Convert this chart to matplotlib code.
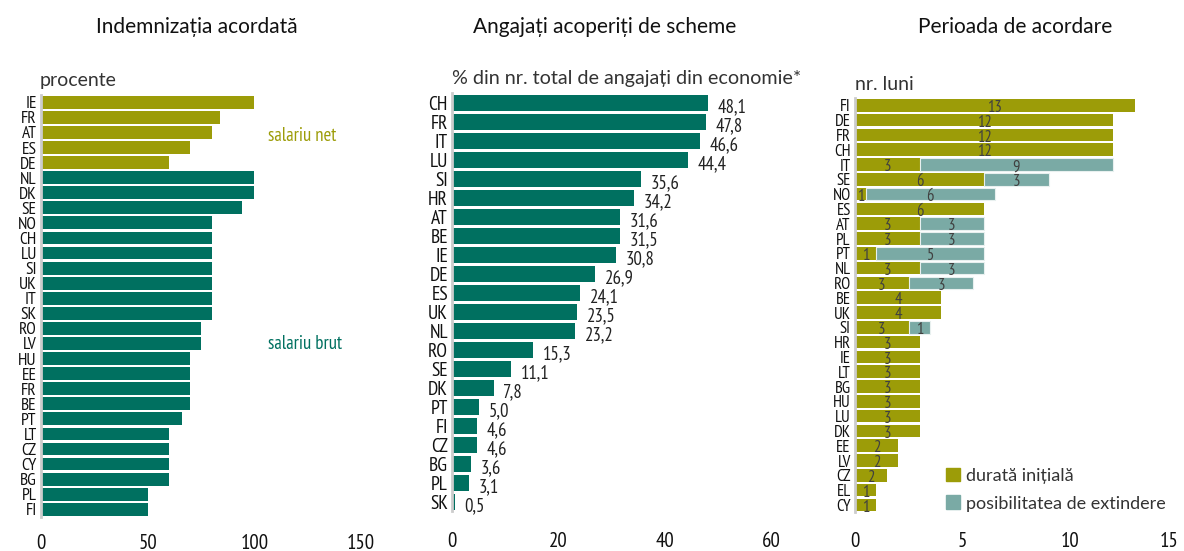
import matplotlib
matplotlib.use("Agg")
import matplotlib.pyplot as plt
from matplotlib import font_manager
from matplotlib.patches import Patch

# fonts: narrow one for the country codes / numbers, Lato for the titles
names = {f.name for f in font_manager.fontManager.ttflist}
narrow = "DejaVu Sans"
for cand in ["Liberation Sans Narrow", "PT Sans Narrow", "Roboto Condensed", "Archivo Narrow",
             "Fira Sans Condensed", "Open Sans Condensed", "IBM Plex Sans Condensed",
             "Asap Condensed", "Encode Sans Condensed", "Barlow Semi Condensed"]:
    if cand in names:
        narrow = cand
        break
NARROW = [narrow, "DejaVu Sans"]
TITLE = ["Lato", "Open Sans", "DejaVu Sans"]

OLIVE = "#9c9c08"
TEAL = "#007060"
LTEAL = "#7aaaa5"
GRID = "#cccccc"

# panel 1 - Indemnizatia acordata
ind_countries = ["IE", "FR", "AT", "ES", "DE", "NL", "DK", "SE", "NO", "CH", "LU", "SI", "UK",
                 "IT", "SK", "RO", "LV", "HU", "EE", "FR", "BE", "PT", "LT", "CZ", "CY", "BG",
                 "PL", "FI"]
ind_values = [100, 84, 80, 70, 60, 100, 100, 94, 80, 80, 80, 80, 80,
              80, 80, 75, 75, 70, 70, 70, 70, 66, 60, 60, 60, 60,
              50, 50]
ind_net = 5  # first five are net wage, the rest gross

# panel 2 - Angajati acoperiti de scheme
cov_countries = ["CH", "FR", "IT", "LU", "SI", "HR", "AT", "BE", "IE", "DE", "ES", "UK",
                 "NL", "RO", "SE", "DK", "PT", "FI", "CZ", "BG", "PL", "SK"]
cov_values = [48.1, 47.8, 46.6, 44.4, 35.6, 34.2, 31.6, 31.5, 30.8, 26.9, 24.1, 23.5,
              23.2, 15.3, 11.1, 7.8, 5.0, 4.6, 4.6, 3.6, 3.1, 0.5]

# panel 3 - Perioada de acordare
per_countries = ["FI", "DE", "FR", "CH", "IT", "SE", "NO", "ES", "AT", "PL", "PT", "NL",
                 "RO", "BE", "UK", "SI", "HR", "IE", "LT", "BG", "HU", "LU", "DK", "EE",
                 "LV", "CZ", "EL", "CY"]
per_initial = [13, 12, 12, 12, 3, 6, 0.5, 6, 3, 3, 1, 3,
               2.5, 4, 4, 2.5, 3, 3, 3, 3, 3, 3, 3, 2,
               2, 1.5, 1, 1]
per_extension = [0, 0, 0, 0, 9, 3, 6, 0, 3, 3, 5, 3,
                 3, 0, 0, 1, 0, 0, 0, 0, 0, 0, 0, 0,
                 0, 0, 0, 0]

fig = plt.figure(figsize=(11.84, 5.51), dpi=100)


def style(ax, n, xlim, xticks, pad):
    ax.set_ylim(n - 0.5, -0.5)
    ax.set_xlim(*xlim)
    ax.set_xticks(xticks)
    ax.set_yticks(range(n))
    for s in ["top", "right", "bottom"]:
        ax.spines[s].set_visible(False)
    ax.spines["left"].set_color(GRID)
    ax.spines["left"].set_linewidth(2)
    ax.tick_params(axis="x", length=0, pad=pad, labelsize=15, labelcolor="#111111")
    ax.tick_params(axis="y", length=0, pad=3, labelcolor="#111111")
    for lab in ax.get_xticklabels():
        lab.set_family(NARROW)


# ---- left panel
ax1 = fig.add_axes([0.0346, 0.0620, 0.2703, 0.7660])
n1 = len(ind_countries)
cols1 = [OLIVE] * ind_net + [TEAL] * (n1 - ind_net)
ax1.barh(range(n1), ind_values, height=0.85, color=cols1)
style(ax1, n1, (0, 150), [0, 50, 100, 150], 12)
ax1.set_yticklabels(ind_countries, family=NARROW, fontsize=12.5)
ax1.text(0.71, 0.903, "salariu net", transform=ax1.transAxes, color=OLIVE,
         fontsize=13.5, family=NARROW, va="center")
ax1.text(0.71, 0.41, "salariu brut", transform=ax1.transAxes, color=TEAL,
         fontsize=13.5, family=NARROW, va="center")

# ---- middle panel
ax2 = fig.add_axes([0.3818, 0.0720, 0.2694, 0.7587])
n2 = len(cov_countries)
ax2.barh(range(n2), cov_values, height=0.82, color=TEAL)
style(ax2, n2, (0, 60), [0, 20, 40, 60], 15)
ax2.set_yticklabels(cov_countries, family=NARROW, fontsize=14)
for i, v in enumerate(cov_values):
    ax2.annotate(f"{v:.1f}".replace(".", ","), (v, i), xytext=(7, -3),
                 textcoords="offset points", va="center", ha="left",
                 fontsize=13.5, family=NARROW, color="#222222")

# ---- right panel
ax3 = fig.add_axes([0.7221, 0.0702, 0.2728, 0.7521])
n3 = len(per_countries)
ax3.barh(range(n3), per_initial, height=0.85, color=OLIVE)
ext_idx = [i for i in range(n3) if per_extension[i] > 0]
ax3.barh(ext_idx, [per_extension[i] for i in ext_idx],
         left=[per_initial[i] for i in ext_idx], height=0.85, color=LTEAL,
         edgecolor="#e8f0ef", linewidth=0.8)
style(ax3, n3, (0, 15), [0, 5, 10, 15], 14)
ax3.get_xticklabels()[-1].set_horizontalalignment("right")
ax3.set_yticklabels(per_countries, family=NARROW, fontsize=12)
for i in range(n3):
    a, b = per_initial[i], per_extension[i]
    ax3.annotate(str(int(a + 0.5)), (a / 2, i), xytext=(0, -2), textcoords="offset points",
                 ha="center", va="center", fontsize=12, family=NARROW, color="#404040")
    if b > 0:
        ax3.annotate(str(int(b + 0.5)), (a + b / 2, i), xytext=(0, -2),
                     textcoords="offset points", ha="center", va="center",
                     fontsize=12, family=NARROW, color="#404040")
handles = [Patch(color=OLIVE, label="durată inițială"),
           Patch(color=LTEAL, label="posibilitatea de extindere")]
leg = fig.legend(handles=handles, loc="lower left", bbox_to_anchor=(0.785, 0.042),
                 frameon=False, handlelength=0.8, handleheight=0.8, handletextpad=0.35,
                 labelspacing=0.65, prop={"family": TITLE, "size": 13})
for t in leg.get_texts():
    t.set_color("#333333")

# titles
fig.text(0.1664, 0.951, "Indemnizația acordată", ha="center", va="center",
         family=TITLE, fontsize=15, color="#111111")
fig.text(0.511, 0.951, "Angajați acoperiți de scheme", ha="center", va="center",
         family=TITLE, fontsize=15, color="#111111")
fig.text(0.857, 0.951, "Perioada de acordare", ha="center", va="center",
         family=TITLE, fontsize=15, color="#111111")

# units
fig.text(0.0338, 0.853, "procente", ha="left", va="center", family=TITLE,
         fontsize=14, color="#333333")
fig.text(0.3818, 0.857, "% din nr. total de angajați din economie*", ha="left", va="center",
         family=TITLE, fontsize=14.2, color="#333333")
fig.text(0.7221, 0.846, "nr. luni", ha="left", va="center", family=TITLE,
         fontsize=14, color="#333333")

fig.savefig("out.png", dpi=100)
